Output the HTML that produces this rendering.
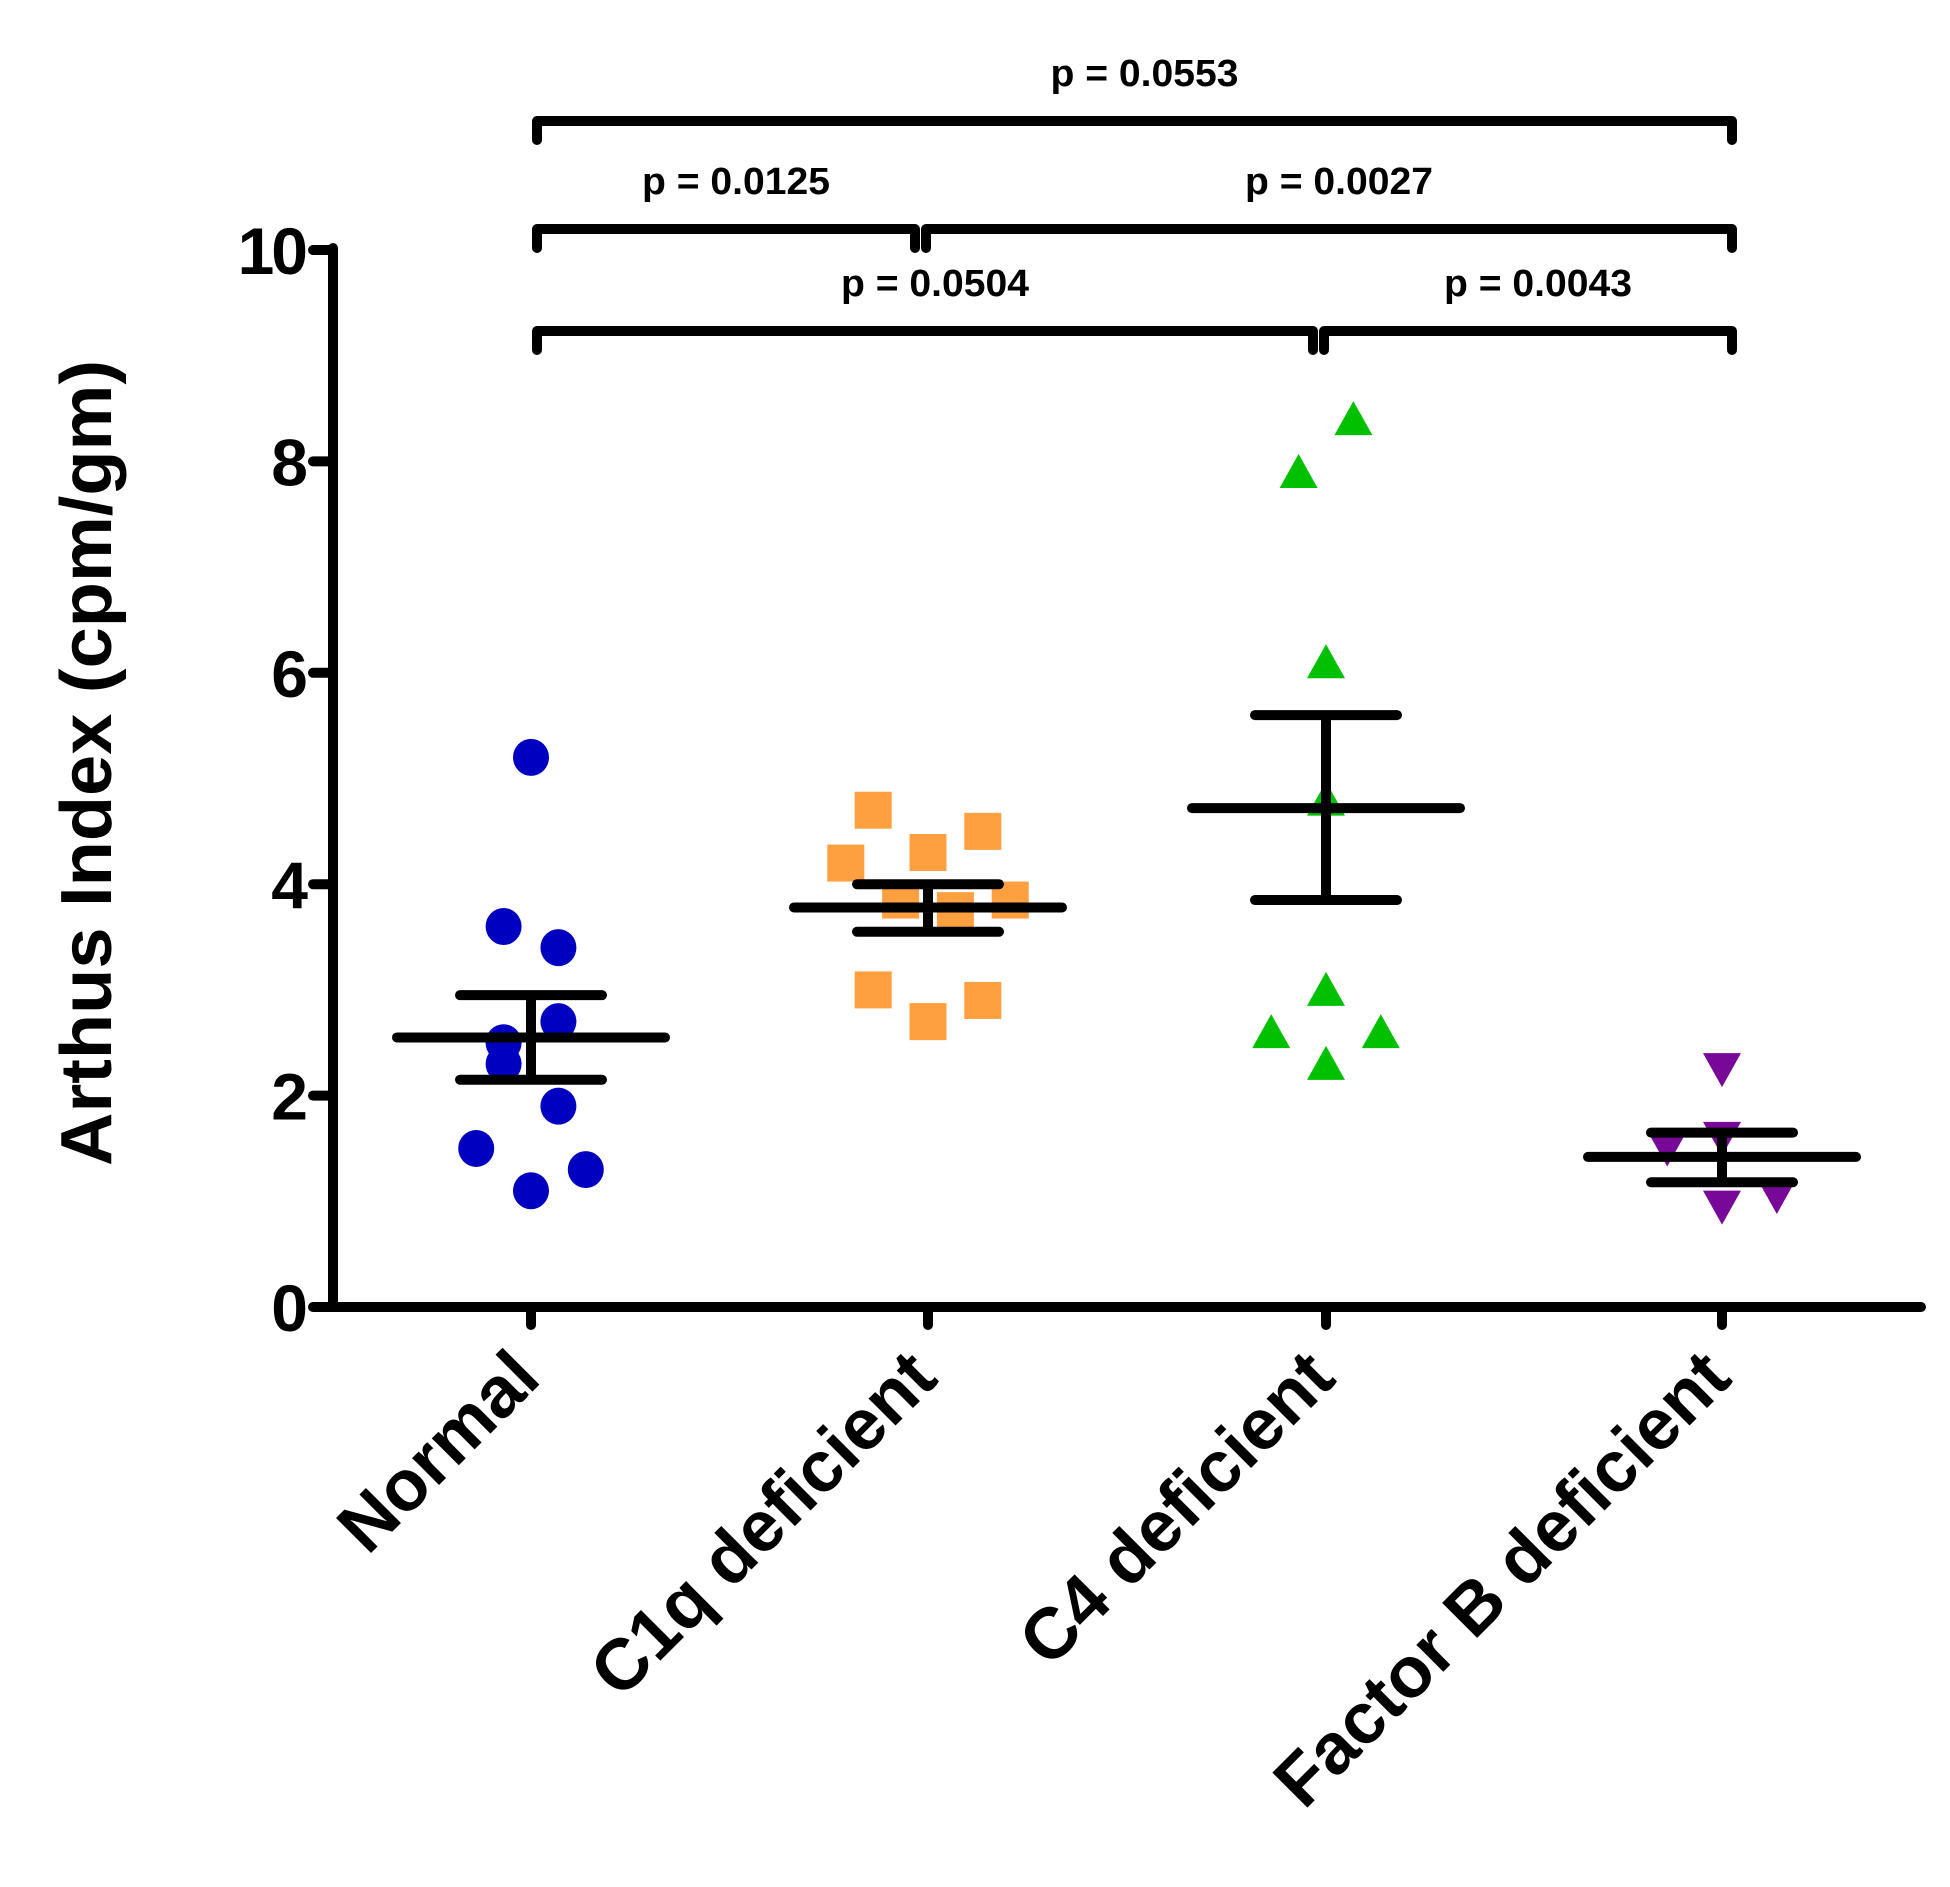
<!DOCTYPE html>
<html><head><meta charset="utf-8"><style>
html,body{margin:0;padding:0;background:#fff;}
svg{display:block;}
text{font-family:"Liberation Sans",Arial,sans-serif;font-weight:bold;fill:#000;}
</style></head><body>
<svg id="chart" width="1950" height="1887" viewBox="0 0 1950 1887" xmlns="http://www.w3.org/2000/svg">
<g id="axes"></g>
<g id="marks"></g>
<g id="stats"></g>
</svg>
<script>
const categories = ["Normal", "C1q deficient", "C4 deficient", "Factor B deficient"];
const yTicks = [0, 2, 4, 6, 8, 10];
const normalVals = [5.2, 3.6, 3.4, 2.7, 2.5, 2.3, 1.9, 1.5, 1.3, 1.1];
const normalJit = [0, -1, 1, 1, -1, -1, 1, -2, 2, 0];
const c1qVals = [4.7, 4.5, 4.3, 4.2, 3.85, 3.85, 3.75, 3.0, 2.9, 2.7];
const c1qJit = [-2, 2, 0, -3, -1, 3, 1, -2, 2, 0];
const c4Vals = [8.4, 7.9, 6.1, 4.8, 3.0, 2.6, 2.6, 2.3];
const c4Jit = [1, -1, 0, 0, 0, -2, 2, 0];
const fbVals = [2.25, 1.6, 1.5, 0.95, 1.05];
const fbJit = [0, 0, -2, 0, 2];
const means = [2.55, 3.78, 4.72, 1.42];
const semUpper = [2.95, 4.0, 5.6, 1.65];
const semLower = [2.15, 3.55, 3.85, 1.18];
const pLabels = ["p = 0.0553", "p = 0.0125", "p = 0.0027", "p = 0.0504", "p = 0.0043"];
const pFrom = [0, 0, 1, 0, 2];
const pTo = [3, 1, 3, 2, 3];
const pRow = [0, 1, 1, 2, 2];

const NS = "http://www.w3.org/2000/svg";
const X0 = 333, Y0 = 1307, YTOP = 250;
function yScale(v){ return Y0 - (Y0 - YTOP) * v / 10; }
const catX = [531, 928, 1326, 1722];
function xScale(i, j){ return catX[i] + (j || 0) * 27.4; }
function mk(parent, tag, attrs){
  const e = document.createElementNS(NS, tag);
  for (const k in attrs) e.setAttribute(k, attrs[k]);
  parent.appendChild(e); return e;
}
const axes = document.getElementById('axes');
const marks = document.getElementById('marks');
const stats = document.getElementById('stats');

let l = mk(axes, 'line', {x1:X0, y1:YTOP-2, x2:X0, y2:Y0, stroke:'#000','stroke-width':10,'stroke-linecap':'round'});


l = mk(axes, 'line', {x1:X0-5, y1:Y0, x2:1921, y2:Y0, stroke:'#000','stroke-width':10,'stroke-linecap':'round'});


yTicks.forEach(v => {
  const y = yScale(v);
  const t = mk(axes, 'line', {x1:313, y1:y, x2:X0, y2:y, stroke:'#000','stroke-width':10,'stroke-linecap':'round'});
  
  
  const tx = mk(axes, 'text', {x:305, y:y+24, 'text-anchor':'end', 'font-size':66, 'letter-spacing':-3});
  tx.textContent = v;
  
  
});
categories.forEach((c, i) => {
  const x = xScale(i);
  const t = mk(axes, 'line', {x1:x, y1:Y0, x2:x, y2:Y0+18, stroke:'#000','stroke-width':10,'stroke-linecap':'round'});
  
  
  const ax = x + 12, ay = Y0 + 74;
  const tx = mk(axes, 'text', {x:ax, y:ay, 'text-anchor':'end', 'font-size':72, transform:'rotate(-45 '+ax+' '+ay+')'});
  tx.textContent = c;
  
  
});
const yt = mk(axes, 'text', {x:0, y:0, 'text-anchor':'middle', 'font-size':72, textLength:806, lengthAdjust:'spacingAndGlyphs', transform:'translate(111 763) rotate(-90)'});
yt.textContent = 'Arthus Index (cpm/gm)';



normalVals.forEach((v, k) => {
  const p = mk(marks, 'ellipse', {cx:xScale(0, normalJit[k]), cy:yScale(v), rx:18, ry:18.5, fill:'#0000C0'});
  
  
});
c1qVals.forEach((v, k) => {
  const cx = xScale(1, c1qJit[k]), cy = yScale(v);
  const p = mk(marks, 'rect', {x:cx-18.5, y:cy-18.5, width:37, height:37, fill:'#FFA040'});
  
  
});
c4Vals.forEach((v, k) => {
  const cx = xScale(2, c4Jit[k]), cy = yScale(v);
  const p = mk(marks, 'polygon', {points:(cx-19)+','+(cy+16)+' '+(cx+19)+','+(cy+16)+' '+cx+','+(cy-18), fill:'#00C000'});
  
  
});
fbVals.forEach((v, k) => {
  const cx = xScale(3, fbJit[k]), cy = yScale(v);
  const p = mk(marks, 'polygon', {points:(cx-19)+','+(cy-16)+' '+(cx+19)+','+(cy-16)+' '+cx+','+(cy+18), fill:'#780898'});
  
  
});
means.forEach((m, i) => {
  const x = xScale(i);
  const g = mk(marks, 'g', {stroke:'#000','stroke-width':10,'stroke-linecap':'round'});
  
  
  mk(g, 'line', {x1:x, y1:yScale(semUpper[i]), x2:x, y2:yScale(semLower[i]), 'stroke-linecap':'butt'});
  mk(g, 'line', {x1:x-134, y1:yScale(m), x2:x+134, y2:yScale(m)});
  mk(g, 'line', {x1:x-71, y1:yScale(semUpper[i]), x2:x+71, y2:yScale(semUpper[i])});
  mk(g, 'line', {x1:x-71, y1:yScale(semLower[i]), x2:x+71, y2:yScale(semLower[i])});
});
const rowY = [121, 229, 331];
pLabels.forEach((lab, k) => {
  let x1 = xScale(pFrom[k]) + 6, x2 = xScale(pTo[k]) + 10;
  if (pRow[k] > 0 && pFrom[k] > 0) x1 = xScale(pFrom[k]) - 2;
  if (pRow[k] > 0 && pTo[k] < 3) x2 = xScale(pTo[k]) - 13;
  const y = rowY[pRow[k]];
  const p = mk(stats, 'path', {d:'M'+x1+' '+(y+19)+' L'+x1+' '+y+' L'+x2+' '+y+' L'+x2+' '+(y+19), fill:'none', stroke:'#000','stroke-width':10,'stroke-linecap':'round','stroke-linejoin':'round'});
  
  
  const t = mk(stats, 'text', {x:(x1+x2)/2 + 10, y:y-35, 'text-anchor':'middle', 'font-size':38, textLength:188, lengthAdjust:'spacingAndGlyphs'});
  t.textContent = lab;
  
  
});
</script>
</body></html>
